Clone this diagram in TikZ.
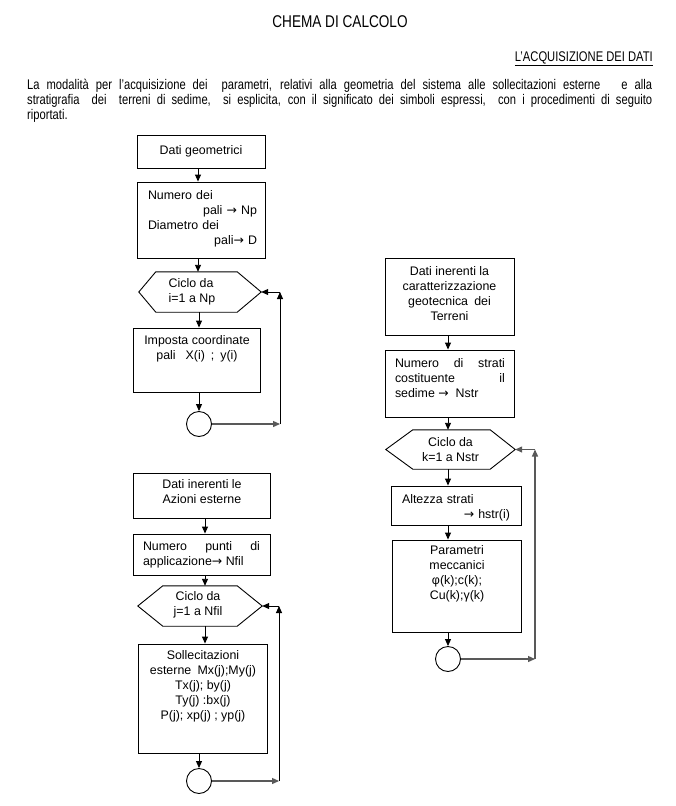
\documentclass[tikz,border=0pt]{standalone}
\usepackage{fontspec}
\setmainfont{Liberation Sans}
\newfontfamily\parafont[FakeStretch=0.8]{Liberation Sans}
\newfontfamily\arrowfont{DejaVu Sans}
\newcommand{\myarrow}{{\arrowfont →}}
\usetikzlibrary{arrows.meta}
\begin{document}
\begin{tikzpicture}[x=1pt,y=-1pt,
  box/.style={draw, line width=0.9pt, inner sep=0pt},
  hexa/.style={inner sep=0pt},
  hexline/.style={line width=0.9pt},
  txt/.style={inner sep=0pt, font=\fontsize{12.4}{15}\selectfont},
  arr/.style={line width=0.9pt, -{Triangle[length=7pt,width=6pt]}},
  loopline/.style={arr, draw=black!65, line width=1.3pt},
  ends/.style={draw, line width=0.9pt, circle, minimum size=25pt, inner sep=0pt}]
\useasboundingbox[fill=white] (0,0) rectangle (676,806);

% header texts
\node[inner sep=0pt, font=\parafont\fontsize{17}{20}\selectfont] (title) at (340,22) {CHEMA DI CALCOLO};
\node[inner sep=0pt, anchor=base east, font=\parafont\fontsize{14}{15}\selectfont] (hdr) at (653,61) {\underline{L’ACQUISIZIONE DEI DATI}};
\node[inner sep=0pt, anchor=north west, text width=625pt, align=justify, font=\parafont\fontsize{14}{15}\selectfont] (para) at (27,79)
 {La modalità per l’acquisizione dei\ \ parametri, relativi alla geometria del sistema alle sollecitazioni esterne\ \ \ e alla\linebreak stratigrafia\ \ dei\ \ terreni di sedime,\ \ si esplicita, con il significato dei simboli espressi,\ \ con i procedimenti di seguito\linebreak riportati.};

% ---------- left top column ----------
\node[box, minimum width=128pt, minimum height=33pt] (b1) at (201,151.5) {};
\node[txt] (t1) at (201,151.5) {Dati geometrici};
\node[box, minimum width=128pt, minimum height=76pt] (b2) at (201,220) {};
\node[txt, text width=109pt, align=left, anchor=north] (t2) at (202.5,190.5)
 {Numero dei\\\hspace*{\fill}pali \myarrow\ Np\\Diametro dei\\\hspace*{\fill}pali\myarrow\ D};
\node[hexa, minimum width=122pt, minimum height=40pt] (hi) at (200,292) {};
\draw[hexline] (hi.west) -- ([xshift=17pt]hi.north west) -- ([xshift=-24pt]hi.north east) -- (hi.east)
  -- ([xshift=-24pt]hi.south east) -- ([xshift=17pt]hi.south west) -- cycle;
\node[txt, align=left] (hit) at (192,292) {Ciclo da\\i=1 a Np};
\node[box, minimum width=127pt, minimum height=64pt] (b3) at (196.5,360) {};
\node[txt, align=center, anchor=north] (t3) at (197,335)
 {Imposta coordinate\\pali\hspace{10pt}X(i)\hspace{6pt};\hspace{6pt}y(i)};
\node[ends] (ci) at (199,424) {};
\coordinate (ib) at (280,424);
\coordinate (it) at (280,292);

\draw[arr] ([xshift=-3pt]b1.south) -- ([xshift=-3pt]b2.north);
\draw[arr] ([xshift=-3pt]b2.south) -- ([xshift=-2pt]hi.north);
\draw[arr] ([xshift=-1pt]hi.south) -- ([xshift=2.5pt]b3.north);
\draw[arr] ([xshift=2.5pt]b3.south) -- (ci.north);
\draw[loopline] (ci.east) -- (ib);
\draw[arr] (ib) -- (it);
\draw[arr] (it) -- (hi.east);

% ---------- right column ----------
\node[box, minimum width=129pt, minimum height=77pt] (bA) at (449.5,296.5) {};
\node[txt, align=center] (tA) at (449.5,294)
 {Dati inerenti la\\caratterizzazione\\geotecnica\enspace dei\\Terreni};
\node[box, minimum width=129pt, minimum height=67pt] (bB) at (449.5,383.5) {};
\node[txt, text width=110pt, align=justify, anchor=north] (tB) at (450,358)
 {Numero di strati\linebreak costituente il\linebreak sedime \myarrow\ \ Nstr};
\node[hexa, minimum width=129pt, minimum height=39pt] (hk) at (450.5,449.5) {};
\draw[hexline] (hk.west) -- ([xshift=27pt]hk.north west) -- ([xshift=-25pt]hk.north east) -- (hk.east)
  -- ([xshift=-25pt]hk.south east) -- ([xshift=27pt]hk.south west) -- cycle;
\node[txt, align=center] (hkt) at (450.5,449.5) {Ciclo da\\k=1 a Nstr};
\node[box, minimum width=130pt, minimum height=39pt] (bC) at (456,505.5) {};
\node[txt, text width=108pt, align=left, anchor=north] (tC) at (456,494)
 {Altezza strati\\\hspace*{\fill}\myarrow\ hstr(i)};
\node[box, minimum width=129pt, minimum height=92pt] (bD) at (456.5,586) {};
\node[txt, align=center, anchor=north] (tD) at (457,545)
 {Parametri\\meccanici\\φ(k);c(k);\\Cu(k);γ(k)};
\node[ends] (ck) at (448,659) {};
\coordinate (kb) at (535,659);
\coordinate (kt) at (535,449.5);

\draw[arr] ([xshift=-1.5pt]bA.south) -- ([xshift=-1.5pt]bB.north);
\draw[arr] ([xshift=-1.5pt]bB.south) -- ([xshift=-2.5pt]hk.north);
\draw[arr] ([xshift=-2.5pt]hk.south) -- ([xshift=-8pt]bC.north);
\draw[arr] ([xshift=-8pt]bC.south) -- ([xshift=-8.5pt]bD.north);
\draw[arr] ([xshift=-8.5pt]bD.south) -- (ck.north);
\draw[loopline] (ck.east) -- (kb);
\draw[loopline] (kb) -- (kt);
\draw[loopline] (kt) -- (hk.east);

% ---------- left bottom column ----------
\node[box, minimum width=137pt, minimum height=45pt] (bE) at (201.5,495.5) {};
\node[txt, align=center] (tE) at (202,492) {Dati inerenti le\\Azioni esterne};
\node[box, minimum width=137pt, minimum height=41pt] (bF) at (201.5,554.5) {};
\node[txt, text width=117pt, align=justify, anchor=north] (tF) at (201.5,541)
 {Numero punti di\linebreak applicazione\myarrow\ Nfil};
\node[hexa, minimum width=124pt, minimum height=40pt] (hj) at (200,606) {};
\draw[hexline] (hj.west) -- ([xshift=25pt]hj.north west) -- ([xshift=-25pt]hj.north east) -- (hj.east)
  -- ([xshift=-25pt]hj.south east) -- ([xshift=25pt]hj.south west) -- cycle;
\node[txt, align=center] (hjt) at (198,605) {Ciclo da\\j=1 a Nfil};
\node[box, minimum width=129pt, minimum height=109pt] (bG) at (202.5,698.5) {};
\node[txt, align=center, anchor=north] (tG) at (203,650)
 {Sollecitazioni\\esterne\enspace Mx(j);My(j)\\Tx(j); by(j)\\Ty(j) :bx(j)\\P(j); xp(j) ; yp(j)};
\node[ends] (cj) at (199,781) {};
\coordinate (jb) at (279,781);
\coordinate (jt) at (279,606);

\draw[arr] ([xshift=3.5pt]bE.south) -- ([xshift=3.5pt]bF.north);
\draw[arr] ([xshift=3.5pt]bF.south) -- ([xshift=5pt]hj.north);
\draw[arr] ([xshift=5pt]hj.south) -- ([xshift=2.5pt]bG.north);
\draw[arr] ([xshift=-3.5pt]bG.south) -- (cj.north);
\draw[loopline] (cj.east) -- (jb);
\draw[arr] (jb) -- (jt);
\draw[arr] (jt) -- (hj.east);
\end{tikzpicture}
\end{document}
